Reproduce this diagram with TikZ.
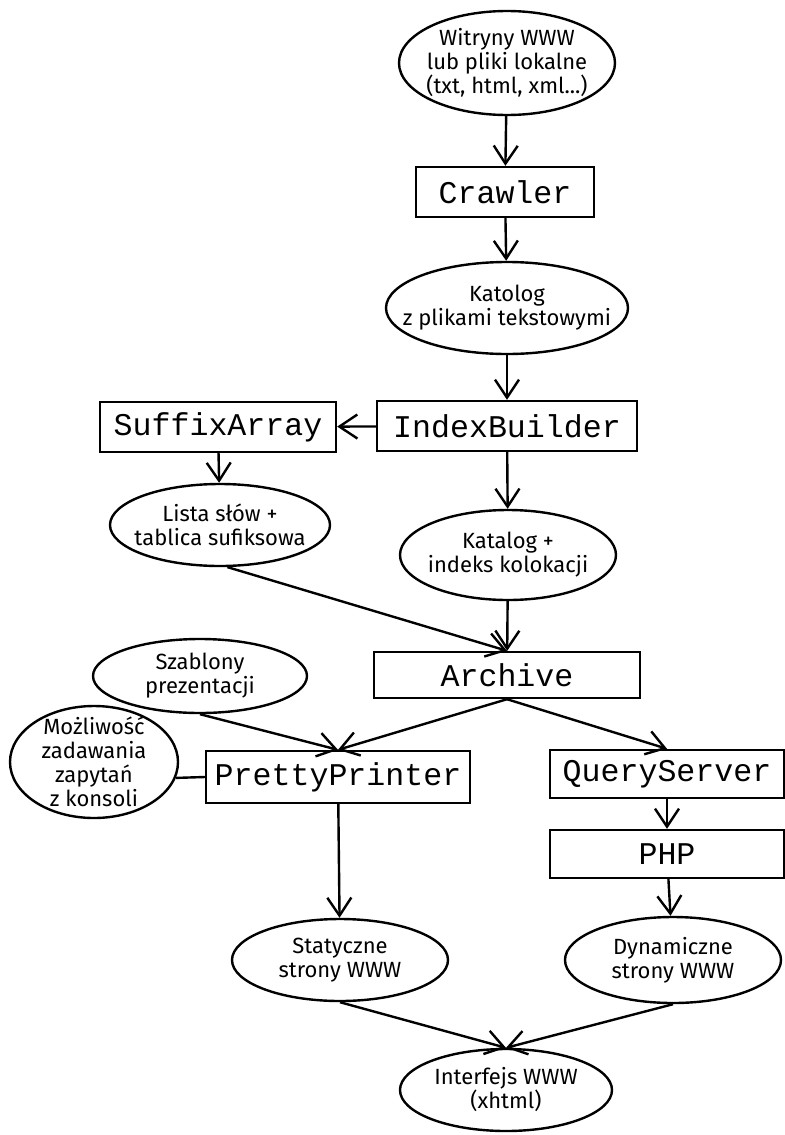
\documentclass[tikz,border=0pt]{standalone}
\usepackage{fontspec}
\setmainfont{Fira Sans}
\setmonofont{Liberation Mono}
\usetikzlibrary{shapes,positioning,calc,arrows.meta}

\begin{document}
\begin{tikzpicture}[x=0.5pt,y=-0.5pt,
        every path/.style={line width=1.2pt},
        blob/.style={draw,ellipse,inner xsep=-30pt,inner ysep=-10pt,align=center,font=\fontsize{11}{12}\selectfont},
        prog/.style={draw,rectangle,inner sep=0pt,minimum height=25pt,font=\ttfamily\fontsize{15.8}{15.8}\selectfont},
        flow/.style={-{Straight Barb[length=9pt,width=12pt]}}]
            \useasboundingbox (0,0) rectangle (784,1135);

            % sources and crawling
            \node[blob,minimum width=108pt,minimum height=52pt] (witryny) at (507,63) {Witryny WWW\\lub pliki lokalne\\(txt, html, xml...)};
            \node[prog,minimum width=89pt] (crawler) at (505,192) {Crawler};
            \node[blob,minimum width=121pt,minimum height=46pt] (katolog) at (507,308) {Katolog\\z plikami tekstowymi};

            % indexing
            \node[prog,minimum width=130pt] (indexb) at (507,426) {IndexBuilder};
            \node[prog,minimum width=118pt] (suffix) at (218,427) {SuffixArray};
            \node[blob,minimum width=110pt,minimum height=41pt] (lista) at (220,525) {Lista słów +\\tablica sufiksowa};
            \node[blob,minimum width=108pt,minimum height=45pt] (katalog) at (508,555) {Katalog +\\indeks kolokacji};
            \node[prog,minimum width=133pt,minimum height=23pt] (archive) at (507,675) {Archive};

            % output side
            \node[blob,minimum width=107pt,minimum height=37pt] (szablony) at (200,676) {Szablony\\prezentacji};
            \node[blob,minimum width=84pt,minimum height=56pt] (konsola) at (94,762) {Możliwość\\zadawania\\zapytań\\z konsoli};
            \node[prog,minimum width=132pt,minimum height=26pt] (pretty) at (338,777) {PrettyPrinter};
            \node[prog,minimum width=117pt,minimum height=24pt] (query) at (667,774) {QueryServer};
            \node[prog,minimum width=117pt,minimum height=24pt] (php) at (667,854) {PHP};
            \node[blob,minimum width=108pt,minimum height=41pt] (statyczne) at (340,960) {Statyczne\\strony WWW};
            \node[blob,minimum width=108pt,minimum height=43pt] (dynamiczne) at (673,960) {Dynamiczne\\strony WWW};
            \node[blob,minimum width=106pt,minimum height=41pt] (interfejs) at (506,1090) {Interfejs WWW\\(xhtml)};

            \draw[flow] (witryny) -- (crawler);
            \draw[flow] (crawler) -- (katolog);
            \draw[flow] (katolog) -- (indexb);
            \draw[flow] (indexb) -- (suffix);
            \draw[flow] (suffix) -- (lista);
            \draw[flow] (indexb) -- (katalog);
            \draw[flow] (lista.-80) -- (archive.north);
            \draw[flow] (katalog) -- (archive);
            \draw[flow] (szablony.south) -- (pretty.north);
            \draw[flow] (archive.south) -- (pretty.north);
            \draw[flow] (archive.south) -- (query.north);
            \draw (konsola.-11) -- (pretty.west);
            \draw[flow] (pretty) -- (statyczne);
            \draw[flow] (query) -- (php);
            \draw[flow] (php) -- (dynamiczne);
            \draw[flow] (statyczne.south) -- (interfejs.north);
            \draw[flow] (dynamiczne.south) -- (interfejs.north);

        \end{tikzpicture}
\end{document}
